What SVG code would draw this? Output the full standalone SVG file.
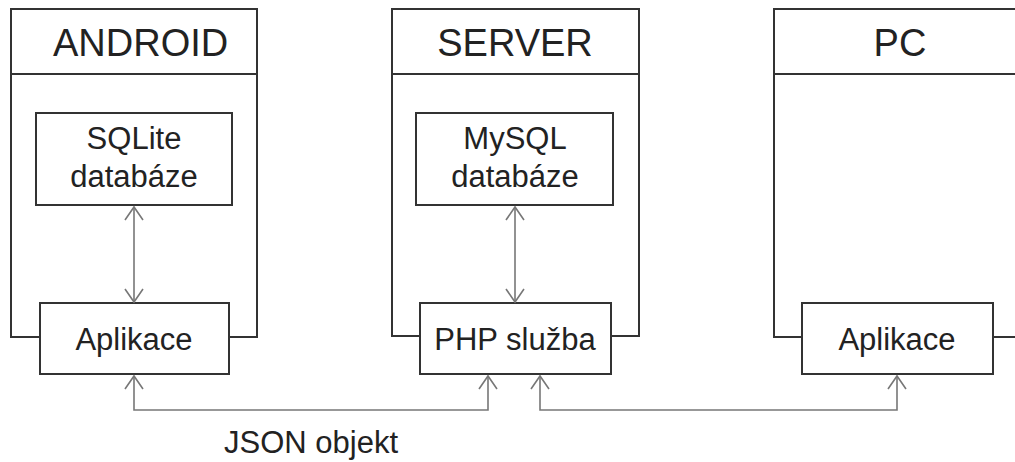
<svg xmlns="http://www.w3.org/2000/svg" width="1015" height="462" viewBox="0 0 1015 462">
<defs>
<style>
.frame{fill:none;stroke:#333;stroke-width:2}
.box{fill:#fff;stroke:#333;stroke-width:2}
.conn{fill:none;stroke:#777;stroke-width:1.6}
.hd{font-family:"Liberation Sans",Arial,sans-serif;font-size:38px;fill:#222}
.t{font-family:"Liberation Sans",Arial,sans-serif;font-size:31px;fill:#222;text-anchor:middle}
</style>
<marker id="ah" viewBox="0 0 20 20" refX="14" refY="10" markerWidth="20" markerHeight="20" markerUnits="userSpaceOnUse" orient="auto-start-reverse">
<path d="M1,1 L14,10 L1,19" fill="none" stroke="#777" stroke-width="1.6"/>
</marker>
</defs>
<rect width="1015" height="462" fill="#fff"/>

<g id="android">
<path class="frame" d="M40,337 H11 V9 H257 V337 H229"/>
<line class="frame" x1="11" y1="74" x2="257" y2="74"/>
<text class="hd" x="53" y="56">ANDROID</text>
</g>
<g id="server">
<path class="frame" d="M420,336 H392 V9 H639 V336 H611"/>
<line class="frame" x1="392" y1="74" x2="639" y2="74"/>
<text class="hd" x="515" y="56" text-anchor="middle">SERVER</text>
</g>
<g id="pc">
<path class="frame" d="M802,337 H774 V9 H1016"/>
<line class="frame" x1="774" y1="74" x2="1016" y2="74"/>
<line class="frame" x1="993" y1="337" x2="1016" y2="337"/>
<text class="hd" x="900" y="56" text-anchor="middle">PC</text>
</g>

<g id="sqlite">
<rect class="box" x="36" y="113" width="196" height="92"/>
<text class="t" x="134" y="149">SQLite</text>
<text class="t" x="134" y="187">databáze</text>
</g>
<g id="android-app">
<rect class="box" x="40" y="303" width="189" height="71"/>
<text class="t" x="134" y="350">Aplikace</text>
</g>
<g id="mysql">
<rect class="box" x="416" y="113" width="197" height="92"/>
<text class="t" x="515" y="149">MySQL</text>
<text class="t" x="515" y="187">databáze</text>
</g>
<g id="php">
<rect class="box" x="420" y="303" width="191" height="71"/>
<text class="t" x="515" y="350">PHP služba</text>
</g>
<g id="pc-app">
<rect class="box" x="802" y="303" width="191" height="71"/>
<text class="t" x="897" y="350">Aplikace</text>
</g>

<g id="connectors">
<line class="conn" x1="134" y1="207" x2="134" y2="302" marker-start="url(#ah)" marker-end="url(#ah)"/>
<line class="conn" x1="515" y1="207" x2="515" y2="302" marker-start="url(#ah)" marker-end="url(#ah)"/>
<path class="conn" d="M134,376 V410 H488 V376" marker-start="url(#ah)" marker-end="url(#ah)"/>
<path class="conn" d="M540,376 V410 H897 V376" marker-start="url(#ah)" marker-end="url(#ah)"/>
<text class="t" x="311" y="453">JSON objekt</text>
</g>
</svg>
